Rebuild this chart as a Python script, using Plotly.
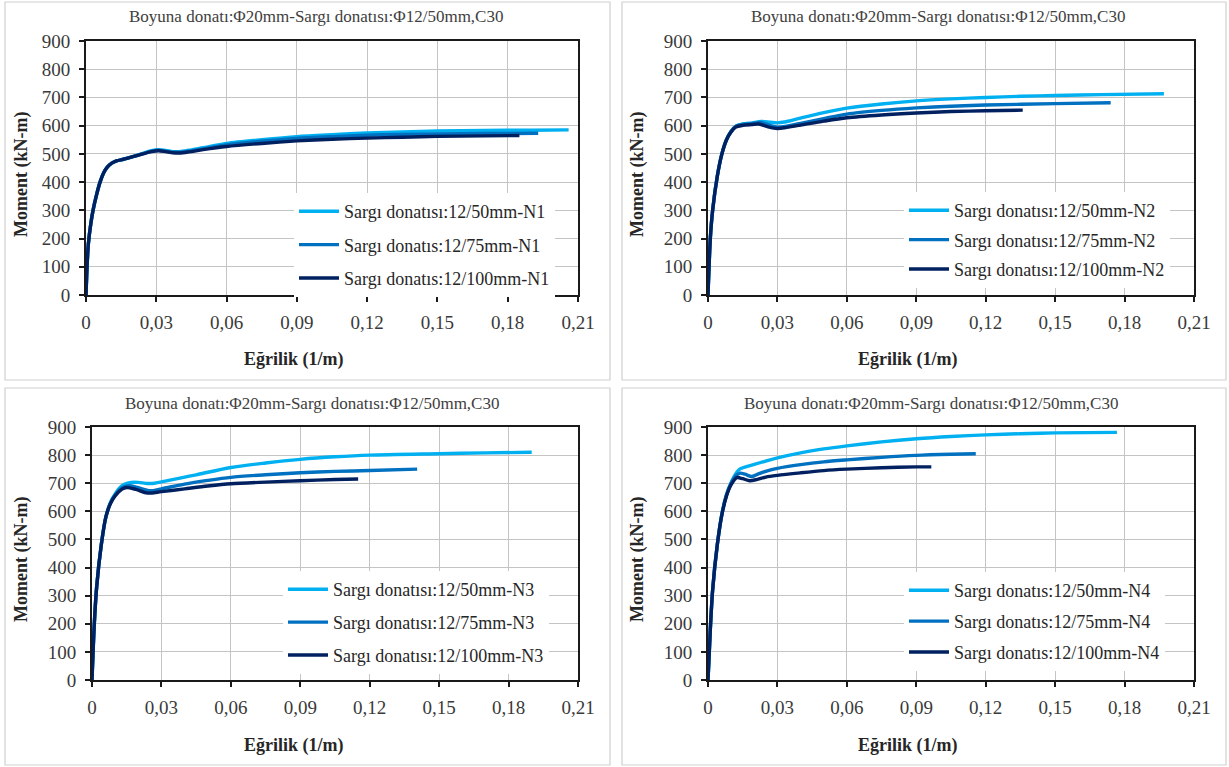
import plotly.graph_objects as go

W, H = 1229, 767

# ---------------- data ----------------
x_ticks = [0, 0.03, 0.06, 0.09, 0.12, 0.15, 0.18, 0.21]
x_tick_labels = ["0", "0,03", "0,06", "0,09", "0,12", "0,15", "0,18", "0,21"]
y_ticks = [0, 100, 200, 300, 400, 500, 600, 700, 800, 900]
y_tick_labels = ["0", "100", "200", "300", "400", "500", "600", "700", "800", "900"]

title_text = "Boyuna donatı:Φ20mm-Sargı donatısı:Φ12/50mm,C30"
x_title = "Eğrilik (1/m)"
y_title = "Moment (kN-m)"

# Panel 1 (N1)
n1_names = ["Sargı donatısı:12/50mm-N1", "Sargı donatıs:12/75mm-N1", "Sargı donatıs:12/100mm-N1"]
n1_50_x = [0, 0.0005, 0.001, 0.002, 0.003, 0.0045, 0.006, 0.0075, 0.009, 0.011, 0.013, 0.016, 0.020, 0.024,
           0.028, 0.031, 0.034, 0.037, 0.040, 0.044, 0.050, 0.060, 0.075, 0.090, 0.105, 0.120, 0.135, 0.150,
           0.170, 0.190, 0.206]
n1_50_y = [0, 110, 180, 250, 300, 355, 400, 432, 452, 467, 475, 481, 490, 501, 511, 515, 512, 508, 508,
           513, 522, 537, 550, 561, 568, 574, 578, 581, 583, 584, 585]
n1_75_x = [0, 0.0005, 0.001, 0.002, 0.003, 0.0045, 0.006, 0.0075, 0.009, 0.011, 0.013, 0.016, 0.020, 0.024,
           0.028, 0.031, 0.034, 0.037, 0.040, 0.044, 0.050, 0.060, 0.075, 0.090, 0.105, 0.120, 0.135, 0.150,
           0.170, 0.193]
n1_75_y = [0, 110, 180, 250, 300, 355, 400, 432, 452, 467, 475, 481, 490, 500, 510, 513, 510, 506, 506,
           510, 518, 532, 545, 555, 561, 566, 569, 571, 572, 573]
n1_100_x = [0, 0.0005, 0.001, 0.002, 0.003, 0.0045, 0.006, 0.0075, 0.009, 0.011, 0.013, 0.016, 0.020, 0.024,
            0.028, 0.031, 0.034, 0.037, 0.040, 0.044, 0.050, 0.060, 0.075, 0.090, 0.105, 0.120, 0.135, 0.150,
            0.170, 0.185]
n1_100_y = [0, 110, 180, 250, 300, 355, 400, 432, 452, 467, 475, 481, 490, 499, 508, 511, 508, 504, 503,
            507, 515, 526, 537, 546, 552, 556, 559, 562, 564, 565]

# Panel 2 (N2)
n2_names = ["Sargı donatısı:12/50mm-N2", "Sargı donatısı:12/75mm-N2", "Sargı donatısı:12/100mm-N2"]
n2_50_x = [0, 0.001, 0.002, 0.004, 0.006, 0.008, 0.010, 0.012, 0.015, 0.019, 0.023, 0.027, 0.030, 0.033,
           0.040, 0.050, 0.060, 0.075, 0.090, 0.105, 0.120, 0.135, 0.150, 0.170, 0.197]
n2_50_y = [0, 200, 300, 420, 500, 550, 580, 598, 606, 610, 615, 612, 610, 613, 627, 646, 662, 677, 688,
           695, 700, 704, 707, 710, 713]
n2_75_x = [0, 0.001, 0.002, 0.004, 0.006, 0.008, 0.010, 0.012, 0.015, 0.019, 0.023, 0.027, 0.030, 0.034,
           0.040, 0.050, 0.060, 0.075, 0.090, 0.105, 0.120, 0.150, 0.174]
n2_75_y = [0, 200, 300, 420, 500, 550, 580, 597, 604, 607, 611, 600, 595, 598, 608, 625, 641, 654, 663,
           669, 673, 678, 681]
n2_100_x = [0, 0.001, 0.002, 0.004, 0.006, 0.008, 0.010, 0.012, 0.015, 0.019, 0.022, 0.026, 0.030, 0.034,
            0.040, 0.050, 0.060, 0.075, 0.090, 0.105, 0.120, 0.136]
n2_100_y = [0, 200, 300, 420, 500, 550, 578, 595, 601, 604, 606, 596, 590, 594, 602, 616, 628, 638, 645,
            650, 653, 655]

# Panel 3 (N3)
n3_names = ["Sargı donatısı:12/50mm-N3", "Sargı donatısı:12/75mm-N3", "Sargı donatısı:12/100mm-N3"]
n3_50_x = [0, 0.001, 0.002, 0.004, 0.006, 0.008, 0.010, 0.012, 0.014, 0.017, 0.020, 0.024, 0.027, 0.030,
           0.038, 0.045, 0.060, 0.075, 0.090, 0.105, 0.120, 0.150, 0.170, 0.190]
n3_50_y = [0, 200, 330, 480, 580, 632, 662, 684, 696, 703, 703, 699, 700, 705, 718, 730, 756, 772, 785,
           794, 800, 805, 808, 810]
n3_75_x = [0, 0.001, 0.002, 0.004, 0.006, 0.008, 0.010, 0.013, 0.016, 0.020, 0.025, 0.030, 0.040, 0.050,
           0.060, 0.075, 0.090, 0.105, 0.120, 0.1405]
n3_75_y = [0, 200, 330, 480, 580, 630, 658, 684, 691, 684, 673, 680, 697, 710, 721, 730, 737, 742, 745, 750]
n3_100_x = [0, 0.001, 0.002, 0.004, 0.006, 0.008, 0.010, 0.013, 0.015, 0.019, 0.024, 0.030, 0.040, 0.050,
            0.060, 0.075, 0.090, 0.105, 0.115]
n3_100_y = [0, 200, 330, 480, 580, 628, 655, 679, 685, 678, 665, 670, 680, 690, 698, 704, 709, 713, 715]

# Panel 4 (N4)
n4_names = ["Sargı donatıs:12/50mm-N4", "Sargı donatıs:12/75mm-N4", "Sargı donatıs:12/100mm-N4"]
n4_50_x = [0, 0.001, 0.002, 0.004, 0.006, 0.008, 0.010, 0.0125, 0.014, 0.020, 0.030, 0.040, 0.050, 0.060,
           0.075, 0.090, 0.105, 0.120, 0.135, 0.150, 0.1767]
n4_50_y = [0, 180, 320, 480, 590, 660, 703, 740, 752, 767, 790, 808, 822, 833, 847, 858, 866, 872, 876,
           879, 881]
n4_75_x = [0, 0.001, 0.002, 0.004, 0.006, 0.008, 0.010, 0.012, 0.014, 0.016, 0.019, 0.022, 0.026, 0.030,
           0.040, 0.050, 0.060, 0.075, 0.090, 0.105, 0.1157]
n4_75_y = [0, 180, 320, 480, 590, 658, 700, 727, 736, 732, 724, 734, 745, 753, 766, 776, 783, 792, 799,
           803, 805]
n4_100_x = [0, 0.001, 0.002, 0.004, 0.006, 0.008, 0.010, 0.0125, 0.015, 0.018, 0.021, 0.025, 0.030, 0.040,
            0.050, 0.060, 0.075, 0.090, 0.0965]
n4_100_y = [0, 180, 320, 480, 588, 655, 695, 720, 716, 709, 713, 722, 728, 737, 745, 750, 755, 758, 758]

colors = ["#00B0F0", "#0070C0", "#002060"]

panels = [
    (n1_names, [(n1_50_x, n1_50_y), (n1_75_x, n1_75_y), (n1_100_x, n1_100_y)]),
    (n2_names, [(n2_50_x, n2_50_y), (n2_75_x, n2_75_y), (n2_100_x, n2_100_y)]),
    (n3_names, [(n3_50_x, n3_50_y), (n3_75_x, n3_75_y), (n3_100_x, n3_100_y)]),
    (n4_names, [(n4_50_x, n4_50_y), (n4_75_x, n4_75_y), (n4_100_x, n4_100_y)]),
]

# ---------------- layout geometry (pixels) ----------------
plot_px = [  # x0, x1, ytop, ybottom
    (86, 578, 41, 295),
    (708, 1194, 41, 295),
    (92, 578, 427, 680),
    (708, 1194, 427, 680),
]
panel_px = [(5, 610, 2, 380), (622, 1226, 2, 380), (5, 610, 388, 765), (622, 1226, 388, 765)]
title_px = [(316, 17), (938, 17), (312, 403), (931, 403)]
xtitle_px = [(294, 360), (908, 360), (294, 745), (908, 745)]
ytitle_px = [(21, 175), (637, 175), (21, 560), (637, 560)]
legend_px = [(294, 193), (904, 192), (283, 571), (904, 572)]
legend_gap = [7, 3, 6.5, 4.5]

FONT = "Liberation Serif, Times New Roman, serif"

fig = go.Figure()
layout = dict(
    template="none",
    width=W, height=H, autosize=False,
    margin=dict(l=0, r=0, t=0, b=0, pad=0),
    paper_bgcolor="white", plot_bgcolor="white",
    font=dict(family=FONT, color="#262626"),
    shapes=[], annotations=[],
)

for i, (names, series) in enumerate(panels):
    k = "" if i == 0 else str(i + 1)
    leg = "legend" if i == 0 else f"legend{i + 1}"
    for j, ((xs, ys), nm) in enumerate(zip(series, names)):
        fig.add_trace(go.Scatter(
            x=xs, y=ys, mode="lines", name=nm,
            line=dict(color=colors[j], width=3.4, shape="spline", smoothing=0.8),
            xaxis="x" + k, yaxis="y" + k, legend=leg,
            legendgroup=f"p{i}s{j}",
        ))
    x0, x1, yt, yb = plot_px[i]
    layout["xaxis" + k] = dict(
        domain=[x0 / W, x1 / W], anchor="y" + k, range=[0, 0.21], automargin=False,
        tickmode="array", tickvals=x_ticks, ticktext=x_tick_labels,
        showgrid=True, gridcolor="#C4C4C4", gridwidth=1.3,
        showline=True, linecolor="#1a1a1a", linewidth=2, mirror=True,
        ticks="outside", ticklen=5, tickcolor="#1a1a1a", tickwidth=1.5,
        tickfont=dict(family=FONT, size=19, color="#3a3a3a"),
        ticklabelstandoff=4, zeroline=False, fixedrange=True,
    )
    layout["yaxis" + k] = dict(
        domain=[1 - yb / H, 1 - yt / H], anchor="x" + k, range=[0, 900], automargin=False,
        tickmode="array", tickvals=y_ticks, ticktext=y_tick_labels,
        showgrid=True, gridcolor="#C4C4C4", gridwidth=1.3,
        showline=True, linecolor="#1a1a1a", linewidth=2, mirror=True,
        ticks="outside", ticklen=5, tickcolor="#1a1a1a", tickwidth=1.5,
        tickfont=dict(family=FONT, size=19, color="#3a3a3a"),
        ticklabelstandoff=5, zeroline=False, fixedrange=True,
    )
    lx, ly = legend_px[i]
    layout[leg] = dict(
        x=lx / W, y=1 - ly / H, xanchor="left", yanchor="top",
        xref="paper", yref="paper",
        bgcolor="white", borderwidth=0,
        font=dict(family=FONT, size=18, color="#262626"),
        tracegroupgap=legend_gap[i], itemwidth=40,
    )
    px0, px1, py0, py1 = panel_px[i]
    layout["shapes"].append(dict(
        type="rect", xref="paper", yref="paper",
        x0=px0 / W, x1=px1 / W, y0=1 - py1 / H, y1=1 - py0 / H,
        line=dict(color="#D0D0D0", width=1.2), fillcolor="rgba(0,0,0,0)", layer="below",
    ))
    tx, ty = title_px[i]
    layout["annotations"].append(dict(
        text=title_text, x=tx / W, y=1 - ty / H, xref="paper", yref="paper",
        xanchor="center", yanchor="middle", showarrow=False,
        font=dict(family=FONT, size=17, color="#404040"),
    ))
    ax, ay = xtitle_px[i]
    layout["annotations"].append(dict(
        text="<b>" + x_title + "</b>", x=ax / W, y=1 - ay / H, xref="paper", yref="paper",
        xanchor="center", yanchor="middle", showarrow=False,
        font=dict(family=FONT, size=18, color="#262626"),
    ))
    bx, by = ytitle_px[i]
    layout["annotations"].append(dict(
        text="<b>" + y_title + "</b>", x=bx / W, y=1 - by / H, xref="paper", yref="paper",
        xanchor="center", yanchor="middle", showarrow=False, textangle=-90,
        font=dict(family=FONT, size=18, color="#262626"),
    ))

fig.update_layout(**layout)
fig.write_html(
    "out.html",
    config={"displayModeBar": False},
    post_script="document.body.style.margin='0px';document.body.style.overflow='hidden';",
)
